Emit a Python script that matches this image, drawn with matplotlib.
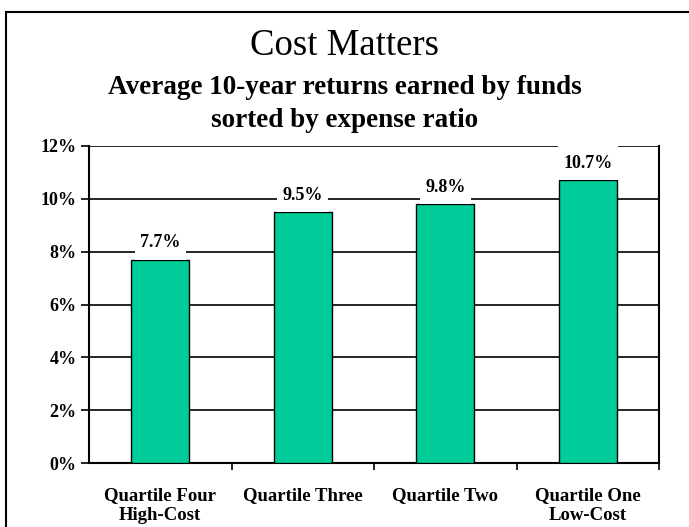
import matplotlib
matplotlib.use("Agg")
import matplotlib.pyplot as plt
from matplotlib.patches import Rectangle
from matplotlib.path import Path
from matplotlib.ticker import FixedLocator, FuncFormatter

categories = ["Quartile Four\nHigh-Cost", "Quartile Three", "Quartile Two", "Quartile One\nLow-Cost"]
returns = [7.7, 9.5, 9.8, 10.7]
value_labels = ["7.7%", "9.5%", "9.8%", "10.7%"]
yticks = [0, 2, 4, 6, 8, 10, 12]

title = "Cost Matters"
subtitle = "Average 10-year returns earned by funds\nsorted by expense ratio"

plt.rcParams['font.family'] = ['Liberation Serif', 'DejaVu Serif']

fig = plt.figure(figsize=(6.89, 5.27), dpi=100)
ax = fig.add_axes([89/689, 1-463/527, (659-89)/689, (463-146)/527])

x = list(range(len(categories)))
ax.bar(x, returns, width=0.41, color="#00CC99", edgecolor="black", linewidth=1.0, zorder=3)

ax.set_xlim(-0.5, len(categories) - 0.5)
ax.set_ylim(0, 12)
ax.set_yticks(yticks)
ax.yaxis.set_major_formatter(FuncFormatter(lambda v, p: f"{v:.0f}%"))
ax.grid(axis='y', color='black', linewidth=1.2, zorder=1)
ax.set_axisbelow(True)

ax.set_xticks(x)
ax.set_xticklabels(categories, fontsize=13.5, fontweight='bold', linespacing=1.25)
ax.xaxis.set_minor_locator(FixedLocator([i + 0.5 for i in x]))
ax.tick_params(axis='x', which='major', length=0, pad=17)
ax.tick_params(axis='x', which='minor', length=5, width=1.2, direction='out')
ax.tick_params(axis='y', length=6, width=1.2, direction='out', pad=3, labelsize=13)
for lab in ax.get_yticklabels():
    lab.set_fontweight('bold')

for s in ['left', 'right', 'bottom']:
    ax.spines[s].set_linewidth(1.5)
ax.spines['top'].set_visible(False)


def label_box(x0, y0, width, height, mutation_size):
    padx = 0.3 * mutation_size
    padb = 0.45 * mutation_size
    padt = 0.95 * mutation_size
    xa, xb = x0 - padx, x0 + width + padx
    ya, yb = y0 - padb, y0 + height + padt
    return Path([(xa, ya), (xb, ya), (xb, yb), (xa, yb), (xa, ya)], closed=True)


for xi, v, lab in zip(x, returns, value_labels):
    ax.annotate(lab, (xi, v), xytext=(0, 12), textcoords='offset points',
                ha='center', va='center', fontsize=13, fontweight='bold',
                bbox=dict(boxstyle=label_box, fc='white', ec='none'), zorder=4)

fig.text(0.5, 1-46/527, title, ha='center', va='center', fontsize=26.5)
fig.text(0.5, 1-104/527, subtitle, ha='center', va='center', fontsize=19.5,
         fontweight='bold', linespacing=1.38)

fig.patches.append(Rectangle((6/689, -0.1), 1.2, 1.1 - 12/527, transform=fig.transFigure,
                             fill=False, edgecolor='black', linewidth=1.5))

fig.savefig("out.png", dpi=100)
